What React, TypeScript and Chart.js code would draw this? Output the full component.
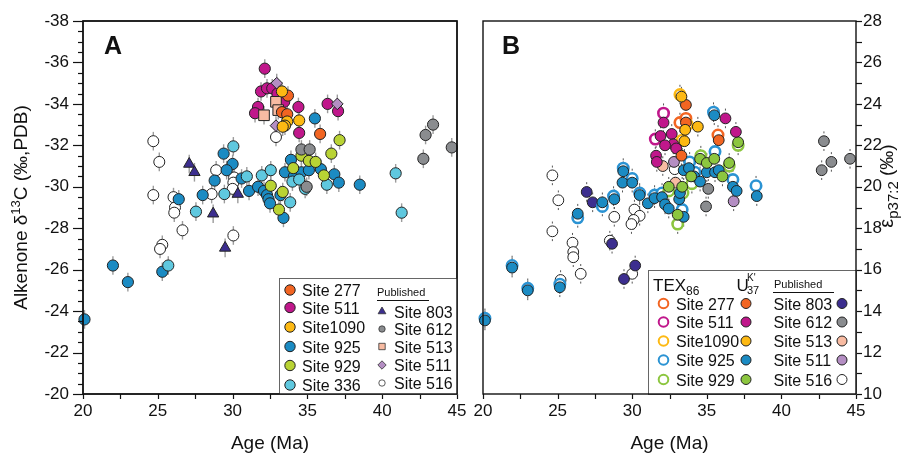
import React, { useEffect, useRef } from 'react';
import { Chart, registerables } from 'chart.js';
Chart.register(...registerables);

const FONT = '"Liberation Sans", Arial, Helvetica, sans-serif';

// ---------- tick labels ----------
const ageTicks = [20, 25, 30, 35, 40, 45];
const d13cTicks = [-38, -36, -34, -32, -30, -28, -26, -24, -22, -20];
const epsTicks = [28, 26, 24, 22, 20, 18, 16, 14, 12, 10];

// ---------- Panel A: alkenone d13C, [age Ma, d13C] ----------
const a277 = [[33.7, -34.4], [33.3, -33.6], [33.65, -33.5], [35.85, -32.55]];
const a511 = [[32.15, -35.7], [31.9, -34.6], [32.3, -34.75], [32.65, -34.75], [33.0, -34.5], [33.45, -34.1], [31.7, -33.85], [31.5, -33.55], [34.4, -33.85], [34.45, -32.6], [36.35, -34.0], [37.05, -33.65]];
const a1090 = [[33.3, -34.6], [33.65, -33.15], [33.5, -32.95], [33.35, -32.9], [34.45, -33.2]];
const a925 = [[20.1, -23.6], [22.0, -26.2], [23.0, -25.4], [25.3, -25.9], [26.4, -29.4], [28.0, -29.6], [28.8, -30.3], [29.4, -31.6], [30.0, -31.1], [29.6, -30.8], [30.6, -30.4], [31.1, -29.8], [31.7, -30.0], [32.1, -29.8], [32.3, -29.6], [32.4, -29.4], [32.5, -29.2], [33.2, -29.6], [33.4, -28.5], [33.9, -31.3], [33.5, -30.7], [34.1, -30.5], [34.6, -30.7], [35.1, -30.8], [35.9, -30.85], [36.8, -30.6], [37.1, -30.2], [38.5, -30.1], [35.5, -33.3]];
const a929 = [[32.55, -30.05], [33.35, -29.75], [33.1, -28.9], [34.05, -30.9], [34.6, -31.5], [35.1, -31.25], [35.55, -31.2], [36.1, -30.55], [36.6, -31.6], [37.15, -32.25]];
const a336 = [[25.7, -26.2], [27.55, -28.8], [29.45, -29.65], [30.05, -31.95], [30.95, -30.5], [31.95, -30.55], [32.55, -30.8], [33.85, -29.25], [34.0, -30.25], [34.45, -30.35], [34.85, -29.9], [36.3, -30.1], [40.9, -30.65], [41.3, -28.75]];
const p803A = [[27.1, -31.1], [27.45, -30.7], [28.7, -28.7], [29.5, -27.05], [30.35, -29.65]];
const p612A = [[34.6, -31.8], [35.15, -31.8], [34.95, -30.0], [42.75, -31.35], [42.9, -32.5], [43.4, -33.0], [44.65, -31.9]];
const p513A = [[32.9, -34.1], [33.05, -33.7], [32.1, -33.45]];
const p511A = [[32.95, -35.0], [37.0, -34.0], [32.9, -32.95]];
const p516A = [[24.7, -32.2], [25.1, -31.2], [24.7, -29.6], [26.05, -29.5], [26.15, -29.0], [26.1, -28.75], [26.65, -27.9], [25.3, -27.2], [25.15, -27.0], [28.6, -29.65], [28.9, -30.8], [30.1, -30.45], [30.05, -30.2], [30.0, -29.9], [30.05, -27.65], [32.9, -32.4]];

// ---------- Panel B: epsilon p37:2, [age Ma, eps] ----------
const tex277 = [[33.2, 23.1], [33.6, 23.3], [35.75, 22.5]];
const tex511 = [[32.1, 23.55], [31.55, 22.3]];
const tex1090 = [[33.2, 24.45], [33.7, 23.0], [33.35, 22.25]];
const tex925 = [[20.13, 13.65], [21.95, 16.2], [23.0, 15.1], [25.15, 15.3], [26.35, 18.5], [28.0, 19.05], [28.75, 19.55], [29.4, 20.9], [30.0, 20.4], [30.5, 19.7], [31.5, 19.6], [32.0, 19.7], [33.35, 18.9], [33.85, 21.2], [35.55, 21.7], [35.45, 23.6], [36.75, 20.35], [38.3, 20.05], [34.2, 20.7]];
const tex929 = [[33.05, 18.2], [34.0, 20.15], [33.4, 19.7], [36.5, 21.0], [37.1, 22.0], [32.45, 19.8], [34.6, 21.5]];
const uk277 = [[33.6, 23.95], [33.6, 23.1], [33.3, 21.5], [35.8, 22.25]];
const uk511 = [[32.1, 23.1], [31.9, 22.45], [32.65, 22.55], [32.75, 22.05], [32.2, 22.0], [31.6, 21.5], [31.65, 21.2], [32.95, 21.85], [36.25, 23.3], [36.95, 22.65]];
const uk1090 = [[33.3, 24.35], [33.55, 22.75], [34.4, 22.9], [33.5, 22.2]];
const uk925 = [[20.13, 13.55], [21.95, 16.1], [23.0, 15.0], [25.15, 15.15], [26.35, 18.7], [28.0, 19.25], [28.8, 19.4], [29.4, 20.75], [29.35, 20.2], [30.0, 20.2], [30.5, 19.6], [31.05, 19.2], [31.5, 19.45], [32.0, 19.5], [32.2, 19.15], [32.45, 18.95], [33.15, 19.4], [33.45, 18.55], [33.2, 19.7], [33.45, 20.8], [33.8, 20.9], [34.15, 20.5], [34.55, 20.25], [35.0, 20.7], [35.55, 20.7], [35.8, 20.8], [35.5, 23.45], [36.75, 20.0], [37.0, 19.8], [38.35, 19.55]];
const uk929 = [[34.55, 21.35], [35.0, 21.15], [35.5, 21.35], [36.5, 21.15], [33.95, 20.5], [36.05, 20.5], [32.45, 20.0], [33.35, 20.0], [33.05, 18.65], [37.1, 22.15]];
const b803 = [[26.95, 19.75], [27.35, 19.25], [28.65, 17.25], [30.2, 16.2], [29.45, 15.55]];
const b612 = [[35.1, 19.9], [34.95, 19.05], [42.7, 20.8], [42.85, 22.2], [43.35, 21.2], [44.6, 21.35]];
const b513 = [[32.05, 21.0], [32.9, 20.2]];
const b511 = [[32.8, 21.2], [36.8, 19.3]];
const b516 = [[24.65, 20.55], [25.05, 19.35], [24.65, 17.85], [26.0, 17.3], [26.05, 16.85], [26.05, 16.6], [25.2, 15.5], [26.55, 15.8], [28.5, 17.4], [28.8, 18.55], [30.15, 18.9], [30.5, 18.6], [30.1, 18.4], [29.95, 18.2], [30.0, 15.8], [32.85, 20.85]];

// ---------- colours ----------
const C277 = '#f26522';
const C511 = '#c0178b';
const C1090 = '#fdb913';
const C925 = '#1b8bc3';
const C925R = '#2b93d3';
const C929A = '#b9d334';
const C929B = '#8cc63f';
const C336 = '#5fc8df';
const C803 = '#3c2e8f';
const C612 = '#8a8c8f';
const C513 = '#f8bba2';
const C511P = '#b48ec3';

const pts = (arr: number[][]) => arr.map(([x, y]) => ({ x, y }));

type Part = { t: string; s: number; dy?: number; b?: boolean };
function font(p: Part) {
  return `${p.b ? 'bold ' : ''}${p.s}px ${FONT}`;
}
function drawRich(ctx: CanvasRenderingContext2D, parts: Part[], x: number, y: number, align: string, rot = 0) {
  ctx.save();
  ctx.translate(x, y);
  if (rot) ctx.rotate(rot);
  let w = 0;
  for (const p of parts) {
    ctx.font = font(p);
    w += ctx.measureText(p.t).width;
  }
  let cx = align === 'center' ? -w / 2 : align === 'right' ? -w : 0;
  ctx.textAlign = 'left';
  ctx.textBaseline = 'alphabetic';
  ctx.fillStyle = '#111';
  for (const p of parts) {
    ctx.font = font(p);
    ctx.fillText(p.t, cx, p.dy || 0);
    cx += ctx.measureText(p.t).width;
  }
  ctx.restore();
}
function marker(ctx: CanvasRenderingContext2D, style: string, x: number, y: number, r: number, fill: string, stroke: string, lw: number) {
  ctx.save();
  ctx.beginPath();
  if (style === 'triangle') {
    ctx.moveTo(x, y - r);
    ctx.lineTo(x + r * 0.866, y + r * 0.5);
    ctx.lineTo(x - r * 0.866, y + r * 0.5);
    ctx.closePath();
  } else if (style === 'rect') {
    ctx.rect(x - r, y - r, 2 * r, 2 * r);
  } else if (style === 'diamond') {
    ctx.moveTo(x, y - r);
    ctx.lineTo(x + r, y);
    ctx.lineTo(x, y + r);
    ctx.lineTo(x - r, y);
    ctx.closePath();
  } else {
    ctx.arc(x, y, r, 0, Math.PI * 2);
  }
  ctx.fillStyle = fill;
  ctx.fill();
  if (lw > 0) {
    ctx.lineWidth = lw;
    ctx.strokeStyle = stroke;
    ctx.stroke();
  }
  ctx.restore();
}
function line(ctx: CanvasRenderingContext2D, x1: number, y1: number, x2: number, y2: number, lw: number, color = '#111') {
  ctx.beginPath();
  ctx.moveTo(x1, y1);
  ctx.lineTo(x2, y2);
  ctx.lineWidth = lw;
  ctx.strokeStyle = color;
  ctx.stroke();
}

function bottomAxis(chart: any) {
  const ctx = chart.ctx as CanvasRenderingContext2D;
  const xs = chart.scales.x;
  const { bottom } = chart.chartArea;
  for (let a = 20; a <= 45.001; a += 2.5) {
    const px = Math.round(xs.getPixelForValue(a)) + 0.5;
    line(ctx, px, bottom, px, bottom + 5, 1.2);
  }
  ctx.fillStyle = '#111';
  ctx.font = `17px ${FONT}`;
  ctx.textAlign = 'center';
  ctx.textBaseline = 'middle';
  for (const a of ageTicks) ctx.fillText(String(a), xs.getPixelForValue(a), bottom + 17);
}
function frame(chart: any) {
  const ctx = chart.ctx as CanvasRenderingContext2D;
  const { left, right, top, bottom } = chart.chartArea;
  ctx.save();
  ctx.lineWidth = 1.4;
  ctx.strokeStyle = '#111';
  ctx.strokeRect(left, top, right - left, bottom - top);
  ctx.restore();
}
function errBars(chart: any, half: number, mode: string) {
  const ctx = chart.ctx as CanvasRenderingContext2D;
  const xs = chart.scales.x;
  const ys = chart.scales.y;
  ctx.save();
  chart.data.datasets.forEach((ds: any) => {
    ds.data.forEach((d: any) => {
      const px = xs.getPixelForValue(d.x);
      if (mode === 'bar') {
        const y1 = ys.getPixelForValue(d.y - half);
        const y2 = ys.getPixelForValue(d.y + half);
        line(ctx, px, y1, px, y2, 1.4, '#9c9c9c');
      } else {
        const py = ys.getPixelForValue(d.y);
        const off = Math.abs(ys.getPixelForValue(d.y + half) - py);
        line(ctx, px, py - off - 1.5, px, py - off + 0.5, 1, '#555');
        line(ctx, px, py + off - 0.5, px, py + off + 1.5, 1, '#555');
      }
    });
  });
  ctx.restore();
}

const panelAPlugin = {
  id: 'panelA',
  beforeDatasetsDraw(chart: any) {
    errBars(chart, 0.45, 'bar');
  },
  afterDraw(chart: any) {
    const ctx = chart.ctx as CanvasRenderingContext2D;
    const ys = chart.scales.y;
    const { left, right, top, bottom } = chart.chartArea;
    ctx.save();
    // left ticks
    for (let v = -38; v <= -19.999; v += 0.5) {
      const py = Math.round(ys.getPixelForValue(v)) + 0.5;
      const major = Math.abs(v % 2) < 0.01;
      line(ctx, left - (major ? 10 : 5), py, left, py, 1.2);
    }
    ctx.fillStyle = '#111';
    ctx.font = `17px ${FONT}`;
    ctx.textAlign = 'right';
    ctx.textBaseline = 'middle';
    for (const v of d13cTicks) ctx.fillText(String(v), left - 14, ys.getPixelForValue(v));
    bottomAxis(chart);
    frame(chart);
    // legend
    const lx = 279, ly = 278;
    ctx.fillStyle = '#fff';
    ctx.fillRect(lx, ly, right - lx, bottom - ly);
    ctx.lineWidth = 1;
    ctx.strokeStyle = '#666';
    ctx.strokeRect(lx + 0.5, ly + 0.5, right - lx, bottom - ly);
    frame(chart);
    const leftRows = [290, 307.5, 327, 346.5, 365.5, 385];
    const leftItems: [string, string][] = [
      ['Site 277', C277], ['Site 511', C511], ['Site1090', C1090], ['Site 925', C925], ['Site 929', C929A], ['Site 336', C336],
    ];
    leftItems.forEach(([t, c], i) => {
      marker(ctx, 'circle', 290, leftRows[i], 5.2, c, '#222', 1);
      drawRich(ctx, [{ t, s: 16 }], 302, leftRows[i] + 6, 'left');
    });
    drawRich(ctx, [{ t: 'Published', s: 11 }], 377, 296, 'left');
    line(ctx, 377, 300.5, 429, 300.5, 1);
    const rightRows = [311.5, 329, 346.5, 365, 383];
    const rightItems: [string, string, string, number][] = [
      ['Site 803', 'triangle', C803, 4.5], ['Site 612', 'circle', C612, 3.2], ['Site 513', 'rect', C513, 3.2], ['Site 511', 'diamond', C511P, 4.2], ['Site 516', 'circle', '#fff', 3.2],
    ];
    rightItems.forEach(([t, st, c, r], i) => {
      marker(ctx, st, 382, rightRows[i], r, c, '#333', 0.8);
      drawRich(ctx, [{ t, s: 16 }], 394, rightRows[i] + 6, 'left');
    });
    // titles
    drawRich(ctx, [{ t: 'A', s: 25, b: true }], 104, 54, 'left');
    drawRich(ctx, [{ t: 'Age (Ma)', s: 19 }], (left + right) / 2, 449, 'center');
    drawRich(
      ctx,
      [{ t: 'Alkenone \u03b4', s: 19 }, { t: '13', s: 13, dy: -7 }, { t: 'C (\u2030,PDB)', s: 19 }],
      27, (top + bottom) / 2, 'center', -Math.PI / 2
    );
    ctx.restore();
  },
};

const OXB = 470;
const panelBPlugin = {
  id: 'panelB',
  beforeDatasetsDraw(chart: any) {
    errBars(chart, 0.4, 'dot');
  },
  afterDraw(chart: any) {
    const ctx = chart.ctx as CanvasRenderingContext2D;
    const ys = chart.scales.y;
    const { left, right, top, bottom } = chart.chartArea;
    ctx.save();
    for (let v = 10; v <= 28.001; v += 1) {
      const py = Math.round(ys.getPixelForValue(v)) + 0.5;
      line(ctx, right, py, right + 6, py, 1.2);
    }
    ctx.fillStyle = '#111';
    ctx.font = `17px ${FONT}`;
    ctx.textAlign = 'left';
    ctx.textBaseline = 'middle';
    for (const v of epsTicks) ctx.fillText(String(v), right + 7, ys.getPixelForValue(v));
    bottomAxis(chart);
    // legend
    const lx = 648 - OXB, ly = 270;
    ctx.fillStyle = '#fff';
    ctx.fillRect(lx, ly, right - lx, bottom - ly);
    ctx.lineWidth = 1;
    ctx.strokeStyle = '#666';
    ctx.strokeRect(lx + 0.5, ly + 0.5, right - lx, bottom - ly);
    frame(chart);
    drawRich(ctx, [{ t: 'TEX', s: 17 }, { t: '86', s: 12, dy: 4 }], 653 - OXB, 291, 'left');
    drawRich(ctx, [{ t: 'U', s: 17 }], 736.5 - OXB, 291, 'left');
    drawRich(ctx, [{ t: "K'", s: 10 }], 747 - OXB, 281, 'left');
    drawRich(ctx, [{ t: '37', s: 11 }], 747 - OXB, 294, 'left');
    drawRich(ctx, [{ t: 'Published', s: 11 }], 774 - OXB, 288, 'left');
    line(ctx, 773 - OXB, 292.5, 834 - OXB, 292.5, 1);
    const rows = [303.5, 322, 341, 360, 379.5];
    const leftItems: [string, string, string][] = [
      ['Site 277', C277, C277], ['Site 511', C511, C511], ['Site1090', C1090, C1090], ['Site 925', C925R, C925], ['Site 929', C929B, C929B],
    ];
    leftItems.forEach(([t, ring, fill], i) => {
      marker(ctx, 'circle', 663.5 - OXB, rows[i], 4.8, '#fff', ring, 2);
      drawRich(ctx, [{ t, s: 16 }], 676 - OXB, rows[i] + 6, 'left');
      marker(ctx, 'circle', 746 - OXB, rows[i], 5, fill, '#222', 1);
    });
    const rightItems: [string, string][] = [
      ['Site 803', C803], ['Site 612', C612], ['Site 513', C513], ['Site 511', C511P], ['Site 516', '#fff'],
    ];
    rightItems.forEach(([t, c], i) => {
      drawRich(ctx, [{ t, s: 16 }], 773.5 - OXB, rows[i] + 6, 'left');
      marker(ctx, 'circle', 842 - OXB, rows[i], 5, c, '#222', 1);
    });
    drawRich(ctx, [{ t: 'B', s: 25, b: true }], 502 - OXB, 54, 'left');
    drawRich(ctx, [{ t: 'Age (Ma)', s: 19 }], (left + right) / 2, 449, 'center');
    drawRich(
      ctx,
      [{ t: '\u03b5', s: 20 }, { t: 'p37:2', s: 15, dy: 5 }, { t: ' (\u2030)', s: 19 }],
      893 - OXB, 186, 'center', -Math.PI / 2
    );
    ctx.restore();
  },
};

function ds(label: string, arr: number[][], style: string, r: number, fill: string, stroke: string, bw: number, order: number) {
  return {
    label,
    data: pts(arr),
    pointStyle: style,
    pointRadius: r,
    pointHoverRadius: r,
    backgroundColor: fill,
    borderColor: stroke,
    borderWidth: bw,
    pointBackgroundColor: fill,
    pointBorderColor: stroke,
    pointBorderWidth: bw,
    showLine: false,
    clip: false as any,
    order,
  };
}

const baseOptions = (pad: any, yMin: number, yMax: number, reverse: boolean) => ({
  responsive: false,
  maintainAspectRatio: false,
  animation: false as const,
  events: [] as any,
  layout: { padding: pad },
  scales: {
    x: { type: 'linear' as const, min: 20, max: 45, display: false },
    y: { type: 'linear' as const, min: yMin, max: yMax, reverse, display: false },
  },
  plugins: { legend: { display: false }, tooltip: { enabled: false } },
});

export default function App() {
  const refA = useRef<HTMLCanvasElement>(null);
  const refB = useRef<HTMLCanvasElement>(null);
  useEffect(() => {
    const black = '#222';
    const chartA = new Chart(refA.current!, {
      type: 'scatter',
      data: {
        datasets: [
          ds('Site 516 (published)', p516A, 'circle', 5.5, '#ffffff', black, 1, 12),
          ds('Site 925', a925, 'circle', 5.6, C925, black, 1, 11),
          ds('Site 336', a336, 'circle', 5.6, C336, black, 1, 10),
          ds('Site 929', a929, 'circle', 5.6, C929A, black, 1, 9),
          ds('Site 612 (published)', p612A, 'circle', 5.6, C612, black, 1, 8),
          ds('Site 803 (published)', p803A, 'triangle', 6.5, C803, black, 1, 7.5),
          ds('Site 511', a511, 'circle', 5.6, C511, black, 1, 7),
          ds('Site 513 (published)', p513A, 'rect', 7.5, C513, black, 1, 6),
          ds('Site 511 (published)', p511A, 'rectRot', 5.8, C511P, black, 1, 5),
          ds('Site 277', a277, 'circle', 5.6, C277, black, 1, 4),
          ds('Site1090', a1090, 'circle', 5.6, C1090, black, 1, 3),
        ],
      },
      options: baseOptions({ left: 83, right: 13, top: 21, bottom: 66 }, -38, -20, true) as any,
      plugins: [panelAPlugin],
    });
    const chartB = new Chart(refB.current!, {
      type: 'scatter',
      data: {
        datasets: [
          ds('Site 516 (published)', b516, 'circle', 5.4, '#ffffff', black, 1, 20),
          ds('Site 803 (published)', b803, 'circle', 5.4, C803, black, 1, 19),
          ds('Site 612 (published)', b612, 'circle', 5.4, C612, black, 1, 18),
          ds('Site 513 (published)', b513, 'circle', 5.4, C513, black, 1, 17),
          ds('Site 511 (published)', b511, 'circle', 5.4, C511P, black, 1, 16),
          ds('TEX86 Site 925', tex925, 'circle', 5.2, '#ffffff', C925R, 2.6, 15),
          ds('TEX86 Site 929', tex929, 'circle', 5.2, '#ffffff', C929B, 2.6, 14),
          ds('TEX86 Site 511', tex511, 'circle', 5.2, '#ffffff', C511, 2.6, 13),
          ds('TEX86 Site 277', tex277, 'circle', 5.2, '#ffffff', C277, 2.6, 12),
          ds('TEX86 Site1090', tex1090, 'circle', 5.2, '#ffffff', C1090, 2.6, 11),
          ds('UK37 Site 925', uk925, 'circle', 5.4, C925, black, 1, 9),
          ds('UK37 Site 929', uk929, 'circle', 5.4, C929B, black, 1, 8),
          ds('UK37 Site 511', uk511, 'circle', 5.4, C511, black, 1, 7),
          ds('UK37 Site 277', uk277, 'circle', 5.4, C277, black, 1, 6),
          ds('UK37 Site1090', uk1090, 'circle', 5.4, C1090, black, 1, 5),
        ],
      },
      options: baseOptions({ left: 13, right: 55, top: 21, bottom: 66 }, 10, 28, false) as any,
      plugins: [panelBPlugin],
    });
    return () => {
      chartA.destroy();
      chartB.destroy();
    };
  }, []);
  return (
    <div style={{ position: 'fixed', left: 0, top: 0, width: 911, height: 460, background: '#fff', overflow: 'hidden' }}>
      <canvas ref={refA} width={470} height={460} style={{ position: 'absolute', left: 0, top: 0, width: 470, height: 460 }} />
      <canvas ref={refB} width={441} height={460} style={{ position: 'absolute', left: OXB, top: 0, width: 441, height: 460 }} />
    </div>
  );
}
